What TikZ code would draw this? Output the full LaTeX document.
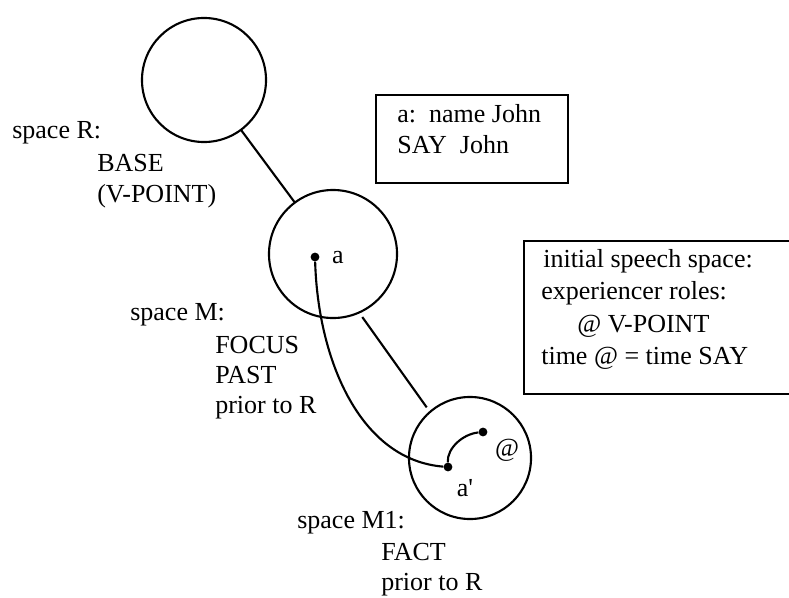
\documentclass[tikz,border=0pt]{standalone}
\usepackage{fontspec}
\setmainfont{Liberation Serif}
\begin{document}
\begin{tikzpicture}[x=0.025cm,y=-0.025cm,
  space/.style={draw,circle,line width=1.5pt,inner sep=0pt,outer sep=0pt},
  dot/.style={circle,fill,inner sep=0pt,minimum size=0.22cm},
  lbl/.style={anchor=base west,inner sep=0pt,font=\fontsize{18.5}{22}\selectfont},
  elem/.style={inner sep=0pt,font=\fontsize{18.5}{22}\selectfont},
  frame/.style={draw,rectangle,line width=1.5pt,anchor=north west,inner sep=0pt}]
\clip (0,0) rectangle (789,598);
% spaces
\node[space,minimum size=3.1cm] (R) at (204,80) {};
\node[space,minimum size=3.2cm] (M) at (333,254) {};
\node[space,minimum size=3.05cm] (M1) at (470,458) {};
\draw[line width=1.5pt] (R) -- (M);
\draw[line width=1.5pt,shorten <=4pt,shorten >=4pt] (M.-66) -- (M1.131);
% elements
\node[dot] (a) at (315,257) {};
\node[dot] (ap) at (448,467) {};
\node[dot] (at) at (483,432) {};
\node[elem] (la) at (338,258) {a};
\node[elem] (lat) at (507,450) {@};
\node[elem] (lap) at (465,488) {a\textquotesingle};
\draw[line width=1.5pt] (a) .. controls (318,360) and (360,460) .. (ap);
\draw[line width=1.5pt] (ap) .. controls (447,448) and (463,434) .. (at);
% space labels
\node[lbl] (r1) at (12,138) {space R:};
\node[lbl] (r2) at (97,171) {BASE};
\node[lbl] (r3) at (97,202) {(V-POINT)};
\node[lbl] (m1) at (130,320) {space M:};
\node[lbl] (m2) at (215,353) {FOCUS};
\node[lbl] (m3) at (215,383) {PAST};
\node[lbl] (m4) at (215,413) {prior to R};
\node[lbl] (n1) at (297,528) {space M1:};
\node[lbl] (n2) at (381,560) {FACT};
\node[lbl] (n3) at (381,590) {prior to R};
% boxes
\node[frame,minimum width=4.8cm,minimum height=2.2cm] (box1) at (375,94) {};
\node[lbl] (b1) at (397,122) {a:\ \ name John};
\node[lbl] (b2) at (397,153) {SAY\ \ John};
\node[frame,minimum width=7cm,minimum height=3.825cm] (box2) at (523,240) {};
\node[lbl] (c1) at (543,267) {initial speech space:};
\node[lbl] (c2) at (541,299) {experiencer roles:};
\node[lbl] (c3) at (577,332) {@ V-POINT};
\node[lbl] (c4) at (541,364) {time @ = time SAY};
\end{tikzpicture}
\end{document}
